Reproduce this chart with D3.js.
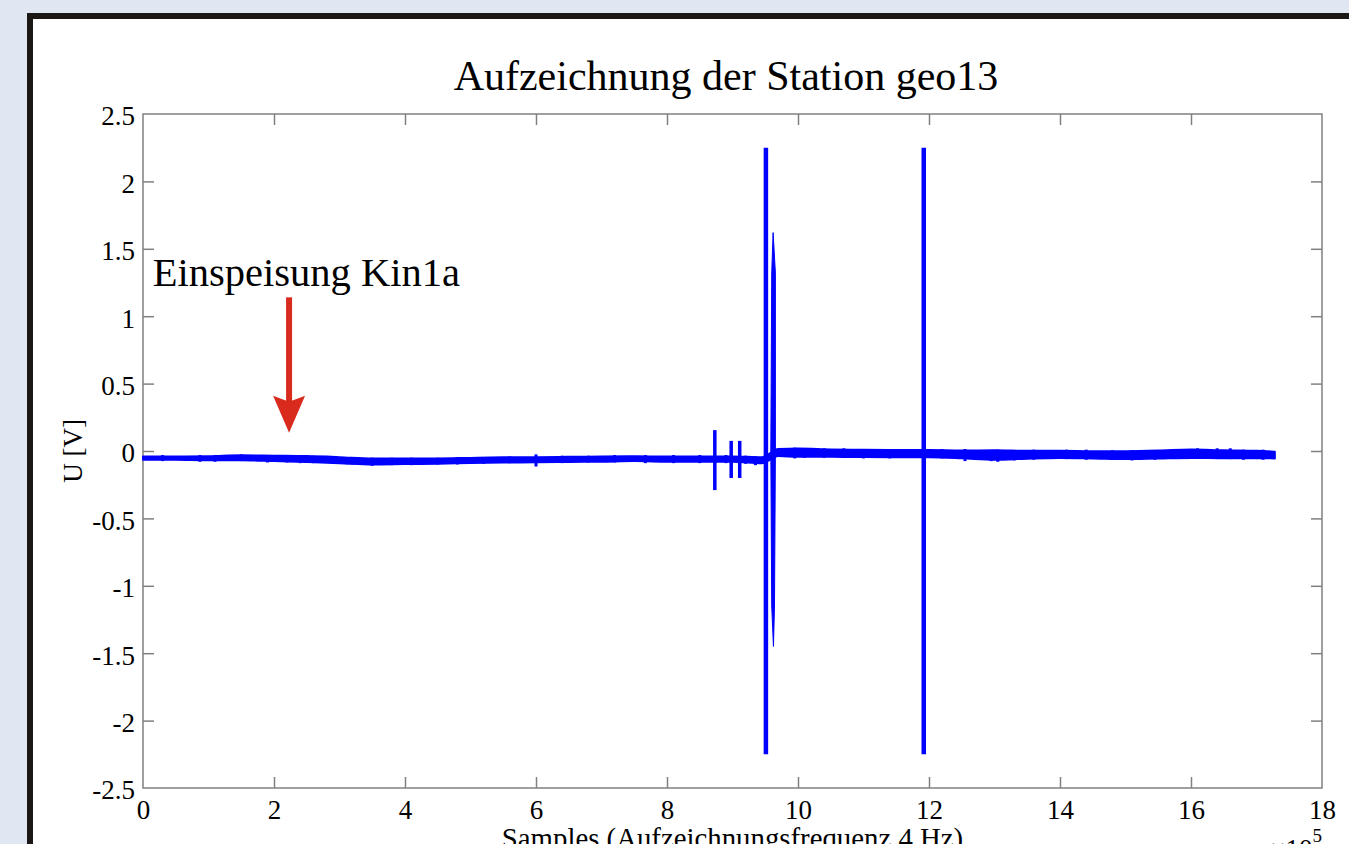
<!DOCTYPE html>
<html>
<head>
<meta charset="utf-8">
<script src="https://cdn.jsdelivr.net/npm/d3@7"></script>
<style>
  html, body { margin: 0; padding: 0; background: #e0e6f2; overflow: hidden; }
  svg { display: block; }
  text { font-family: "Liberation Serif", "Times New Roman", serif; fill: #000; }
</style>
</head>
<body>
<svg id="chart" width="1349" height="844"></svg>
<script>
// ---------------- DATA ----------------
const titleText = "Aufzeichnung der Station geo13";
const xLabelText = "Samples (Aufzeichnungsfrequenz 4 Hz)";
const yLabelText = "U [V]";
const xTicks = [0, 2, 4, 6, 8, 10, 12, 14, 16, 18];
const yTicks = [-2.5, -2, -1.5, -1, -0.5, 0, 0.5, 1, 1.5, 2, 2.5];
const yTickLabels = ["-2.5", "-2", "-1.5", "-1", "-0.5", "0", "0.5", "1", "1.5", "2", "2.5"];

// Signal envelope (samples in units of 10^5), center level and half-width in V
const envX = [0, 0.5, 1, 1.5, 2, 2.5, 3, 3.5, 4, 4.5, 5, 5.5, 6, 6.5, 7, 7.5, 8, 8.5, 9, 9.45, 9.7, 10, 10.5, 11, 11.5, 12, 12.5, 13, 13.5, 14, 14.5, 15, 15.5, 16, 16.5, 17, 17.28];
const envMid = [-0.052, -0.053, -0.054, -0.05, -0.055, -0.06, -0.068, -0.078, -0.076, -0.075, -0.07, -0.066, -0.065, -0.062, -0.06, -0.057, -0.06, -0.06, -0.06, -0.068, -0.012, -0.012, -0.015, -0.018, -0.02, -0.02, -0.025, -0.03, -0.028, -0.025, -0.028, -0.03, -0.026, -0.02, -0.024, -0.026, -0.03];
const envHalf = [0.012, 0.012, 0.015, 0.018, 0.02, 0.022, 0.022, 0.022, 0.021, 0.02, 0.019, 0.019, 0.019, 0.019, 0.019, 0.018, 0.019, 0.02, 0.02, 0.022, 0.026, 0.03, 0.027, 0.027, 0.027, 0.027, 0.029, 0.035, 0.029, 0.027, 0.027, 0.029, 0.029, 0.031, 0.029, 0.027, 0.025];

// Short noise bursts: sample position, low, high (V)
const burstX  = [0.3, 0.87, 1.1, 1.5, 1.9, 2.2, 2.4, 2.6, 2.9, 3.2, 3.5, 3.8, 4.1, 4.5, 4.8, 5.2, 5.6, 6.0, 6.4, 6.8, 7.2, 7.67, 8.1, 8.5, 8.9, 9.2, 9.35, 9.95, 10.1, 10.4, 10.7, 11.0, 11.4, 11.8, 12.2, 12.55, 12.95, 13.05, 13.3, 13.6, 14.1, 14.4, 14.8, 15.1, 15.45, 15.95, 16.1, 16.4, 16.6, 16.8, 17.1];
const burstLo = [-0.075, -0.08, -0.08, -0.075, -0.085, -0.085, -0.09, -0.09, -0.095, -0.1, -0.11, -0.105, -0.105, -0.1, -0.1, -0.095, -0.09, -0.115, -0.09, -0.085, -0.085, -0.09, -0.09, -0.09, -0.09, -0.095, -0.105, -0.055, -0.05, -0.05, -0.05, -0.055, -0.055, -0.05, -0.055, -0.075, -0.075, -0.08, -0.07, -0.065, -0.06, -0.065, -0.065, -0.07, -0.065, -0.06, -0.055, -0.06, -0.06, -0.065, -0.065];
const burstHi = [-0.03, -0.03, -0.03, -0.025, -0.03, -0.03, -0.035, -0.035, -0.04, -0.045, -0.05, -0.05, -0.05, -0.05, -0.045, -0.045, -0.04, -0.025, -0.035, -0.035, -0.03, -0.03, -0.03, -0.03, -0.03, -0.035, -0.04, 0.025, 0.02, 0.02, 0.02, 0.015, 0.015, 0.015, 0.015, 0.015, 0.005, 0.01, 0.005, 0.01, 0.01, 0.01, 0.005, 0.005, 0.005, 0.015, 0.02, 0.02, 0.02, 0.01, 0.01];

// Large spikes: sample position, min, max (V)
const spikeX  = [8.73, 8.98, 9.11, 9.51, 11.92];
const spikeLo = [-0.29, -0.2, -0.2, -2.25, -2.25];
const spikeHi = [0.155, 0.075, 0.075, 2.25, 2.25];

// Tapered decaying spike
const taperX = 9.62, taperLo = -1.45, taperHi = 1.62;

// Annotation
const annText = "Einspeisung Kin1a";
const annTextX = 0.15, annTextY = 1.23;
const arrowX = 2.23, arrowFrom = 1.14, arrowTo = 0.135;

// ---------------- LAYOUT ----------------
const svg = d3.select("#chart");
const W = 1349, H = 844;
const plot = { left: 143, top: 114, right: 1322, bottom: 788 };

// frame
svg.append("rect").attr("x", 30).attr("y", 16).attr("width", W + 20).attr("height", H + 20)
  .attr("fill", "#ffffff").attr("stroke", "#1b1715").attr("stroke-width", 6);

const x = d3.scaleLinear().domain([0, 18]).range([plot.left, plot.right]);
const y = d3.scaleLinear().domain([-2.5, 2.5]).range([plot.bottom, plot.top]);

const axisColor = "#808080";
const tickLen = 11;

// box
svg.append("rect").attr("x", plot.left).attr("y", plot.top)
  .attr("width", plot.right - plot.left).attr("height", plot.bottom - plot.top)
  .attr("fill", "#fff").attr("stroke", axisColor).attr("stroke-width", 1.5);

// axes ticks (inward, on all sides)
const gx = svg.append("g").attr("transform", `translate(0,${plot.bottom})`)
  .call(d3.axisBottom(x).tickValues(xTicks).tickSize(-tickLen).tickPadding(12).tickFormat(d3.format("d")));
const gxt = svg.append("g").attr("transform", `translate(0,${plot.top})`)
  .call(d3.axisTop(x).tickValues(xTicks).tickSize(-tickLen).tickFormat(""));
const gy = svg.append("g").attr("transform", `translate(${plot.left},0)`)
  .call(d3.axisLeft(y).tickValues(yTicks).tickSize(-tickLen).tickPadding(8)
    .tickFormat((d, i) => yTickLabels[i]));
const gyr = svg.append("g").attr("transform", `translate(${plot.right},0)`)
  .call(d3.axisRight(y).tickValues(yTicks).tickSize(-tickLen).tickFormat(""));

[gx, gxt, gy, gyr].forEach(g => {
  g.select(".domain").remove();
  g.selectAll(".tick line").attr("stroke", axisColor).attr("stroke-width", 1.5);
  g.selectAll(".tick text").attr("font-family", "Liberation Serif, serif").attr("font-size", 27).attr("fill", "#000");
});
// remove end ticks that overlap box edges
gx.selectAll(".tick").filter(d => d === 0 || d === 18).select("line").remove();
gxt.selectAll(".tick").filter(d => d === 0 || d === 18).select("line").remove();
gy.selectAll(".tick").filter(d => d === -2.5 || d === 2.5).select("line").remove();
gyr.selectAll(".tick").filter(d => d === -2.5 || d === 2.5).select("line").remove();
gx.selectAll(".tick text").attr("dy", "0.71em");
gy.selectAll(".tick text").attr("dy", "0.4em");

// ---------------- SIGNAL ----------------
const blue = "#0000ff";
const env = envX.map((v, i) => ({ x: v, lo: envMid[i] - envHalf[i], hi: envMid[i] + envHalf[i] }));
svg.append("path").datum(env)
  .attr("d", d3.area().x(d => x(d.x)).y0(d => y(d.lo)).y1(d => y(d.hi)).curve(d3.curveMonotoneX))
  .attr("fill", blue).attr("stroke", blue).attr("stroke-width", 2).attr("stroke-linejoin", "round");

const bursts = burstX.map((v, i) => ({ x: v, lo: burstLo[i], hi: burstHi[i] }));
svg.append("g").selectAll("line").data(bursts).join("line")
  .attr("x1", d => x(d.x)).attr("x2", d => x(d.x))
  .attr("y1", d => y(d.lo)).attr("y2", d => y(d.hi))
  .attr("stroke", blue).attr("stroke-width", 3);

const spikes = spikeX.map((v, i) => ({ x: v, lo: spikeLo[i], hi: spikeHi[i] }));
svg.append("g").selectAll("line").data(spikes).join("line")
  .attr("x1", d => x(d.x)).attr("x2", d => x(d.x))
  .attr("y1", d => y(d.lo)).attr("y2", d => y(d.hi))
  .attr("stroke", blue).attr("stroke-width", d => Math.abs(d.hi) > 1 ? 4.5 : 3.5);

// tapered spike
const tw = 0.035;
svg.append("path")
  .attr("d", d3.line()([
    [x(taperX), y(taperHi)],
    [x(taperX + tw), y(taperHi - 0.3)],
    [x(taperX + tw), y(0)],
    [x(taperX + tw * 0.6), y(taperLo + 0.3)],
    [x(taperX + 0.005), y(taperLo)],
    [x(taperX - tw * 0.6), y(taperLo + 0.3)],
    [x(taperX - tw), y(0)],
    [x(taperX - tw * 0.6), y(taperHi - 0.3)]
  ]) + "Z")
  .attr("fill", blue).attr("stroke", blue).attr("stroke-width", 1);

// ---------------- TEXT ----------------
svg.append("text").attr("x", 726).attr("y", 90)
  .attr("text-anchor", "middle").attr("font-size", 42).text(titleText);

svg.append("text").attr("transform", `translate(82,${(plot.top + plot.bottom) / 2}) rotate(-90)`)
  .attr("text-anchor", "middle").attr("font-size", 27).text(yLabelText);

svg.append("text").attr("x", (plot.left + plot.right) / 2).attr("y", 848)
  .attr("text-anchor", "middle").attr("font-size", 28.8).text(xLabelText);

const exp = svg.append("text").attr("x", plot.right).attr("y", 858).attr("text-anchor", "end").attr("font-size", 27);
exp.append("tspan").text("\u00d710");
exp.append("tspan").attr("font-size", 19).attr("dy", -16).text("5");

// annotation
svg.append("text").attr("x", x(annTextX)).attr("y", y(annTextY) + 1).attr("font-size", 40.5).text(annText);
const red = "#d92a1e";
const ax = x(arrowX), ay0 = y(arrowFrom), ay1 = y(arrowTo);
svg.append("line").attr("x1", ax).attr("x2", ax).attr("y1", ay0).attr("y2", ay1 - 30)
  .attr("stroke", red).attr("stroke-width", 6);
svg.append("path")
  .attr("d", d3.line()([[ax - 16, ay1 - 37], [ax, ay1 - 31], [ax + 16, ay1 - 37], [ax, ay1]]) + "Z")
  .attr("fill", red);
</script>
</body>
</html>
